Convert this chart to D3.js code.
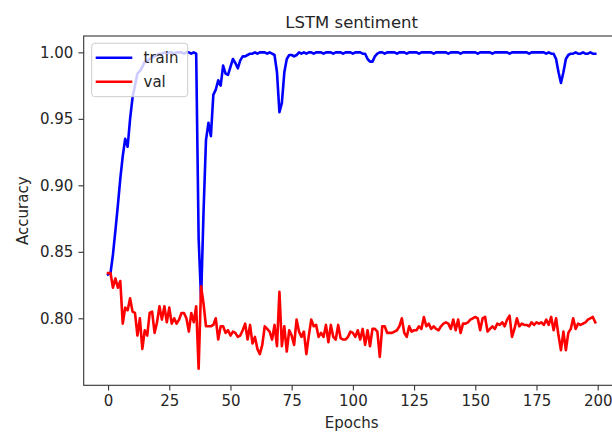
<!DOCTYPE html>
<html>
<head>
<meta charset="utf-8">
<script src="https://cdn.jsdelivr.net/npm/d3@7"></script>
<style>
  body { margin: 0; background: #fff; }
  svg { display: block; font-family: "DejaVu Sans", sans-serif; }
</style>
</head>
<body>
<div id="chart"></div>
<script>
const title = "LSTM sentiment";
const xLabel = "Epochs";
const yLabel = "Accuracy";
const seriesNames = ["train", "val"];
const xTicks = [0, 25, 50, 75, 100, 125, 150, 175, 200];
const yTicks = [0.80, 0.85, 0.90, 0.95, 1.00];

// accuracy per epoch (epochs 0..199)
const train = [
  0.833, 0.834, 0.848, 0.866, 0.885, 0.905, 0.922, 0.935, 0.929, 0.950,
  0.966, 0.975, 0.984, 0.986, 0.989, 0.993, 0.994, 0.995, 0.996, 0.997,
  0.998, 0.999, 0.999, 1.000, 0.999, 1.000, 1.000, 0.999, 1.000, 1.000,
  1.000, 0.999, 1.000, 1.000, 0.999, 1.000, 0.999, 0.860, 0.814, 0.880,
  0.934, 0.947, 0.937, 0.968, 0.972, 0.979, 0.975, 0.990, 0.984, 0.983,
  0.989, 0.995, 0.992, 0.988, 0.994, 0.997, 0.997, 0.998, 0.999, 0.999,
  1.000, 0.999, 1.000, 1.000, 1.000, 0.999, 1.000, 0.999, 0.998, 0.985,
  0.955, 0.962, 0.985, 0.995, 0.998, 0.998, 0.997, 0.998, 1.000, 0.999,
  1.000, 0.999, 1.000, 1.000, 0.999, 1.000, 1.000, 1.000, 0.999, 1.000,
  1.000, 1.000, 0.999, 1.000, 1.000, 1.000, 0.999, 1.000, 1.000, 1.000,
  0.999, 1.000, 1.000, 1.000, 0.999, 0.999, 0.995, 0.993, 0.993, 0.997,
  0.999, 1.000, 1.000, 0.999, 1.000, 1.000, 1.000, 1.000, 0.999, 1.000,
  1.000, 1.000, 0.999, 1.000, 1.000, 1.000, 1.000, 0.999, 1.000, 1.000,
  1.000, 1.000, 1.000, 0.999, 1.000, 1.000, 1.000, 1.000, 1.000, 0.999,
  1.000, 1.000, 1.000, 1.000, 0.999, 1.000, 1.000, 1.000, 1.000, 1.000,
  1.000, 0.999, 1.000, 1.000, 1.000, 1.000, 1.000, 0.999, 1.000, 1.000,
  1.000, 1.000, 1.000, 1.000, 0.999, 1.000, 1.000, 1.000, 1.000, 1.000,
  1.000, 1.000, 0.999, 1.000, 1.000, 1.000, 1.000, 1.000, 1.000, 0.999,
  1.000, 0.999, 0.999, 0.995, 0.985, 0.977, 0.985, 0.995, 0.998, 0.999,
  0.999, 1.000, 0.999, 0.999, 1.000, 0.999, 0.999, 1.000, 0.999, 0.999
];
const val = [
  0.834, 0.834, 0.823, 0.830, 0.823, 0.828, 0.796, 0.808, 0.806, 0.815,
  0.805, 0.804, 0.787, 0.800, 0.777, 0.791, 0.787, 0.804, 0.805, 0.789,
  0.797, 0.809, 0.799, 0.809, 0.797, 0.808, 0.796, 0.800, 0.796, 0.799,
  0.804, 0.804, 0.800, 0.790, 0.804, 0.797, 0.809, 0.762, 0.824, 0.811,
  0.794, 0.794, 0.794, 0.795, 0.800, 0.784, 0.794, 0.794, 0.789, 0.791,
  0.787, 0.790, 0.789, 0.786, 0.787, 0.791, 0.796, 0.784, 0.795, 0.781,
  0.786, 0.777, 0.773, 0.780, 0.794, 0.792, 0.790, 0.784, 0.795, 0.779,
  0.820, 0.779, 0.794, 0.775, 0.791, 0.787, 0.780, 0.799, 0.790, 0.786,
  0.790, 0.773, 0.787, 0.799, 0.794, 0.795, 0.786, 0.789, 0.786, 0.795,
  0.782, 0.795, 0.786, 0.784, 0.795, 0.785, 0.784, 0.784, 0.786, 0.790,
  0.789, 0.786, 0.791, 0.784, 0.792, 0.780, 0.791, 0.779, 0.792, 0.792,
  0.790, 0.771, 0.794, 0.794, 0.789, 0.789, 0.789, 0.790, 0.791, 0.794,
  0.800, 0.789, 0.786, 0.794, 0.790, 0.791, 0.791, 0.794, 0.792, 0.801,
  0.794, 0.796, 0.792, 0.794, 0.792, 0.791, 0.794, 0.796, 0.797, 0.796,
  0.792, 0.799, 0.791, 0.799, 0.789, 0.796, 0.796, 0.797, 0.799, 0.800,
  0.801, 0.800, 0.791, 0.800, 0.801, 0.790, 0.792, 0.794, 0.792, 0.796,
  0.795, 0.797, 0.794, 0.799, 0.802, 0.786, 0.792, 0.800, 0.794, 0.796,
  0.795, 0.795, 0.794, 0.797, 0.795, 0.797, 0.796, 0.797, 0.795, 0.799,
  0.795, 0.801, 0.791, 0.800, 0.787, 0.776, 0.790, 0.776, 0.789, 0.792,
  0.800, 0.792, 0.796, 0.795, 0.796, 0.797, 0.799, 0.800, 0.801, 0.797
];
const colors = ["#0000ff", "#ff0000"];

(function () {
  const W = 612, H = 435;
  const axL = 83.7, axT = 36, axB = 385.3, axR = 619.6;
  const FS = "15px";

  const svg = d3.select("#chart").append("svg").attr("width", W).attr("height", H);

  const x = d3.scaleLinear().domain([-9.95, 208.95]).range([axL, axR]);
  const y = d3.scaleLinear().domain([0.7496, 1.0123]).range([axB, axT]);

  const line = d3.line().x((d, i) => x(i)).y(d => y(d));

  // series (val drawn on top of train)
  [train, val].forEach((s, k) => {
    svg.append("path").datum(s)
      .attr("d", line)
      .attr("fill", "none")
      .attr("stroke", colors[k])
      .attr("stroke-width", 2.6)
      .attr("stroke-linejoin", "round")
      .attr("stroke-linecap", "square");
  });

  // axes
  const xAxis = svg.append("g").attr("transform", `translate(0,${axB})`)
    .call(d3.axisBottom(x).tickValues(xTicks).tickSize(5.2).tickPadding(5.2).tickFormat(d3.format("d")));
  const yAxis = svg.append("g").attr("transform", `translate(${axL},0)`)
    .call(d3.axisLeft(y).tickValues(yTicks).tickSize(5.2).tickPadding(5.2).tickFormat(d3.format(".2f")));

  [xAxis, yAxis].forEach(g => {
    g.select(".domain").remove();
    g.selectAll(".tick line").attr("stroke", "#333").attr("stroke-width", 1.1);
    g.selectAll(".tick text").attr("fill", "#262626").style("font-size", FS)
      .style("font-family", "'DejaVu Sans', sans-serif");
  });

  // spines
  svg.append("rect").attr("x", axL).attr("y", axT)
    .attr("width", axR - axL).attr("height", axB - axT)
    .attr("fill", "none").attr("stroke", "#333").attr("stroke-width", 1.1);

  // title and labels
  svg.append("text").attr("x", (axL + axR) / 2).attr("y", 27.7)
    .attr("text-anchor", "middle").attr("fill", "#262626")
    .style("font-size", "16.5px").text(title);
  svg.append("text").attr("x", (axL + axR) / 2).attr("y", 428)
    .attr("text-anchor", "middle").attr("fill", "#262626")
    .style("font-size", FS).text(xLabel);
  svg.append("text").attr("transform", `translate(27.5,${(axT + axB) / 2}) rotate(-90)`)
    .attr("text-anchor", "middle").attr("fill", "#262626")
    .style("font-size", FS).text(yLabel);

  // legend
  const lg = svg.append("g");
  lg.append("rect").attr("x", 91.7).attr("y", 43.3).attr("width", 96).attr("height", 53.4)
    .attr("rx", 3).attr("fill", "#fff").attr("fill-opacity", 0.8)
    .attr("stroke", "#cccccc").attr("stroke-width", 1);
  seriesNames.forEach((name, k) => {
    const ly = 57.7 + k * 24;
    lg.append("line").attr("x1", 97).attr("x2", 131).attr("y1", ly).attr("y2", ly)
      .attr("stroke", colors[k]).attr("stroke-width", 2.6).attr("stroke-linecap", "square");
    lg.append("text").attr("x", 143.5).attr("y", ly).attr("dy", "0.35em")
      .attr("fill", "#262626").style("font-size", FS).text(name);
  });
})();
</script>
</body>
</html>
